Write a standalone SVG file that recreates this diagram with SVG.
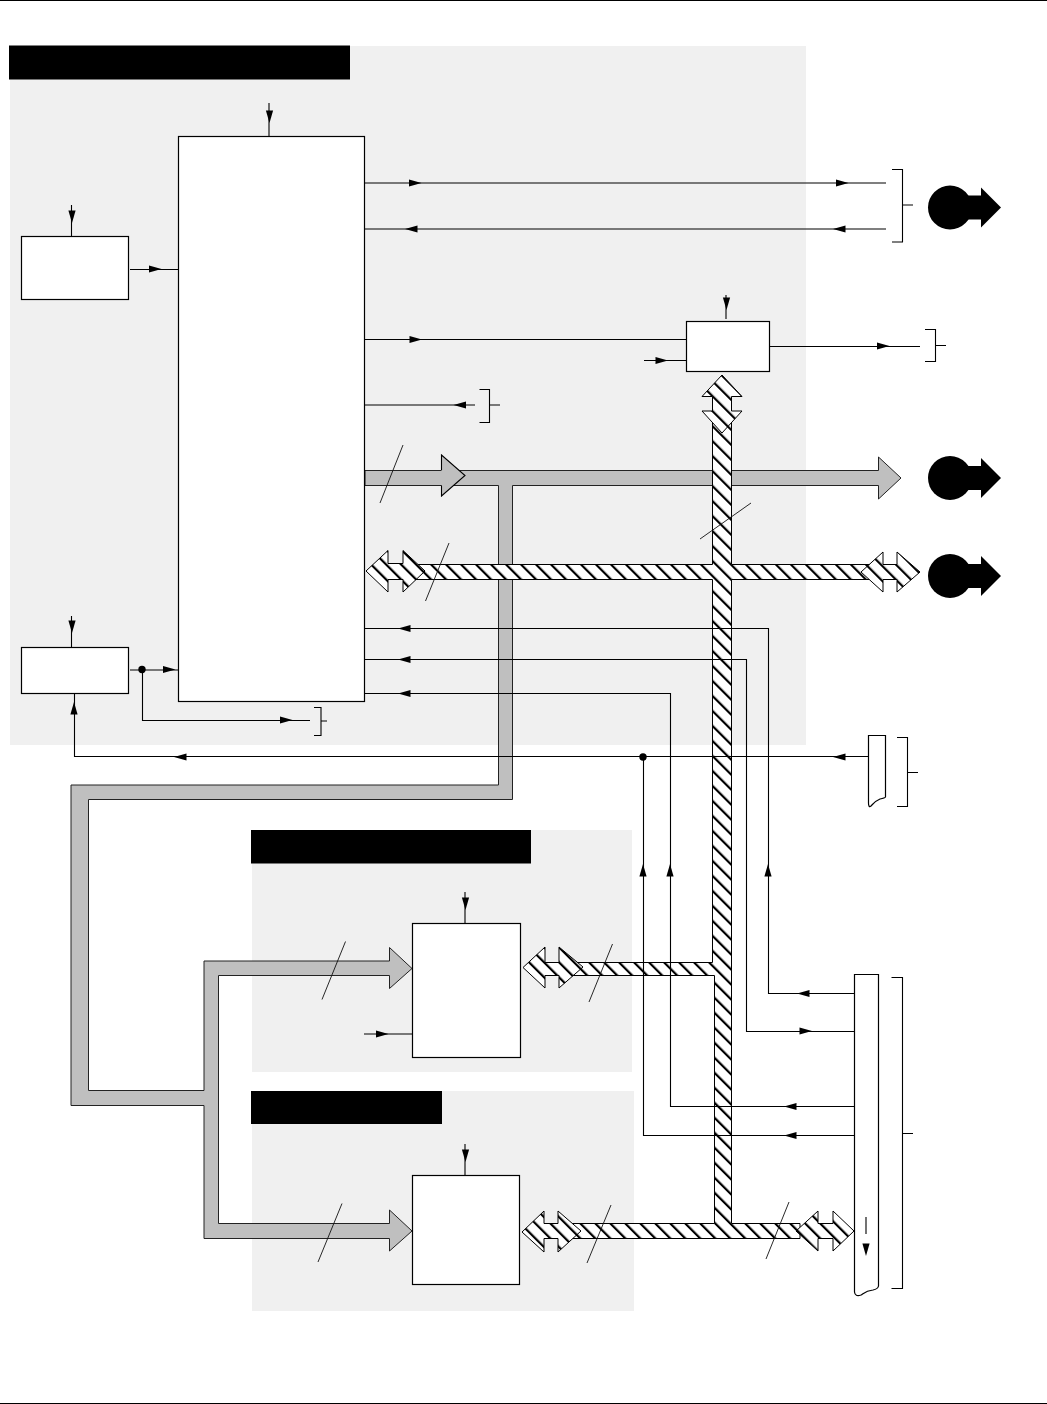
<svg xmlns="http://www.w3.org/2000/svg" width="1047" height="1404" viewBox="0 0 1047 1404">
<style>
.panel{fill:#f0f0f0}
.hdr{fill:#000}
.box{fill:#fff;stroke:#000;stroke-width:1.2}
.ln{fill:none;stroke:#000;stroke-width:1.1}
.thin{fill:none;stroke:#111;stroke-width:.9}
.gray{fill:#bfbfbf;stroke:#222;stroke-width:1}
.hatch{fill:url(#hatch);stroke:#000;stroke-width:1}
</style>
<defs>
<pattern id="hatch" patternUnits="userSpaceOnUse" width="10.6" height="10.6" patternTransform="rotate(-45 0 0)">
<rect width="10.6" height="10.6" fill="#fff"/>
<rect width="2.2" height="10.6" fill="#000"/>
</pattern>
<path id="ah" d="M0,0 L-12.5,-3.6 V3.6 Z" fill="#000"/>
<g id="offpage">
<circle cx="0" cy="0" r="22" fill="#000"/>
<path d="M15,-12 H31 V-20 L51,0 L31,20 V12 H15 Z" fill="#000"/>
</g>
</defs>
<rect width="1047" height="1404" fill="#fff"/>
<path class="ln" d="M0,0.5 H1047 M0,1403.5 H1047"/>

<g id="panel-top"><rect class="panel" x="10" y="46" width="796" height="699"/><rect class="hdr" x="9" y="45.500" width="341" height="34"/></g>
<g id="panel-mid"><rect class="panel" x="252" y="830" width="380" height="242"/><rect class="hdr" x="251" y="830" width="280" height="33.500"/></g>
<g id="panel-low"><rect class="panel" x="252" y="1091" width="382" height="220"/><rect class="hdr" x="251" y="1091" width="191" height="33"/></g>

<g id="connectors">
<!-- gray bus -->
<path class="gray" d="M365,470.5 H878.5 V457 L901,478 L878.5,499 V485.5 H512.5 V799.5 H88.5 V1090.5 H204 V961 H389.5 V947.5 L412,968.5 L389.5,988.5 V975.5 H218.5 V1223.5 H389.5 V1210 L412,1231 L389.5,1251 V1238.5 H204 V1105.5 H71 V785 H498.5 V485.5 H365 Z"/>
<path d="M441.5,470 V455 L465,475.5 L441.5,496 V485.5 Z" fill="#bfbfbf"/>
<path class="ln" d="M441.5,470 V455 L465,475.5 L441.5,496 V485.5"/>
<!-- hatched bus -->
<path class="hatch" d="M412,564.5 H712.5 V411 H731.5 V564.5 H870 V579.5 H731.5 V1223.5 H800 V1238.5 H560 V1223.5 H714.5 V975.5 H570 V962.5 H712.5 V579.5 H412 Z"/>
<path class="hatch" d="M722,375 L742,396.5 H731.5 V411 H742 L722,433 L702,411 H712.5 V396.5 H702 Z"/>
<path class="hatch" d="M366,571 L388,550.5 V563.5 H403 V550.5 L425,571 L403,592 V579.5 H388 V592 Z"/>
<path class="hatch" d="M861,572 L883,552 V564.5 H897 V552 L920,572 L897,592 V579.5 H883 V592 Z"/>
<path class="hatch" d="M523,967.5 L545,947 V962.5 H559 V947 L583,967 L559,988 V975.5 H545 V988 Z"/>
<path class="hatch" d="M522,1232 L544,1211 V1223.5 H558 V1211 L581,1231 L558,1252 V1238.5 H544 V1252 Z"/>
<path class="hatch" d="M796,1231 L818,1211 V1223.5 H833 V1211 L854,1231 L833,1251 V1238.5 H818 V1251 Z"/>
<!-- bus slashes -->
<path class="thin" d="M403,445 L380,503 M449,543 L425.5,601 M751,503 L700,539 M345.5,941.5 L322,999.5 M612.5,944 L589,1002 M342,1203.5 L318,1262 M611,1205 L587,1263 M789,1202 L766,1259"/>
<!-- signal lines -->
<path class="ln" d="M269,103 V136 M71.5,205 V236 M130,269.5 H178 M71.5,616 V647 M130,670 H178 M142.5,670 V720.5 H310 M74.5,693 V756.5 H868 M365,183 H886 M365,229 H886 M365,339.5 H686 M726,295 V319 M644,360.5 H686 M769,346.5 H920 M365,405 H475 M365,628.5 H768.5 V993.5 H855 M365,659.5 H746.5 V1031.5 H855 M365,693.5 H670.5 V1106.5 H855 M643.5,756.5 V1135.5 H855 M465,892 V923 M364,1034 H412 M465,1144 V1175 M866,1217 V1234"/>
<!-- arrowheads -->
<use href="#ah" transform="translate(269.5 123) rotate(90)"/>
<use href="#ah" transform="translate(72 223) rotate(90)"/>
<use href="#ah" transform="translate(161.5 269)"/>
<use href="#ah" transform="translate(72 633) rotate(90)"/>
<use href="#ah" transform="translate(175.5 669.5)"/>
<use href="#ah" transform="translate(292.5 720)"/>
<use href="#ah" transform="translate(74 702) rotate(-90)"/>
<use href="#ah" transform="translate(174 757) rotate(180)"/>
<use href="#ah" transform="translate(833 757) rotate(180)"/>
<use href="#ah" transform="translate(421.5 183)"/>
<use href="#ah" transform="translate(848.5 183)"/>
<use href="#ah" transform="translate(405 229) rotate(180)"/>
<use href="#ah" transform="translate(833 229) rotate(180)"/>
<use href="#ah" transform="translate(422 339.5)"/>
<use href="#ah" transform="translate(726.5 310) rotate(90)"/>
<use href="#ah" transform="translate(668 360.5)"/>
<use href="#ah" transform="translate(889.5 346)"/>
<use href="#ah" transform="translate(453.5 405) rotate(180)"/>
<use href="#ah" transform="translate(398 628.5) rotate(180)"/>
<use href="#ah" transform="translate(398 659.5) rotate(180)"/>
<use href="#ah" transform="translate(398 693.5) rotate(180)"/>
<use href="#ah" transform="translate(643 864) rotate(-90)"/>
<use href="#ah" transform="translate(670 864) rotate(-90)"/>
<use href="#ah" transform="translate(768 864) rotate(-90)"/>
<use href="#ah" transform="translate(797 993.5) rotate(180)"/>
<use href="#ah" transform="translate(812 1031)"/>
<use href="#ah" transform="translate(784 1106.5) rotate(180)"/>
<use href="#ah" transform="translate(784 1135.5) rotate(180)"/>
<use href="#ah" transform="translate(388.5 1034)"/>
<use href="#ah" transform="translate(465.5 910) rotate(90)"/>
<use href="#ah" transform="translate(465.5 1162) rotate(90)"/>
<use href="#ah" transform="translate(866 1256) rotate(90)"/>
<!-- junction dots -->
<circle cx="142" cy="669.5" r="3.7" fill="#000"/>
<circle cx="643" cy="757" r="3.7" fill="#000"/>
<!-- brackets -->
<path class="ln" d="M892,169.5 H902.5 V242 H892 M902.5,205 H913"/>
<path class="ln" d="M925,329.5 H935.5 V361.5 H925 M935.5,345.5 H946"/>
<path class="ln" d="M479.5,389.5 H489.5 V422.5 H479.5 M489.5,405 H500"/>
<path class="ln" d="M314,707.5 H321 V735.5 H314 M321,721 H327"/>
<path class="ln" d="M897,737.5 H907.5 V806.5 H897 M907.5,772.5 H918"/>
<path class="ln" d="M891.5,977.5 H902.5 V1288.5 H891.5 M902.5,1133.5 H913"/>
</g>

<g id="cpu"><rect class="box" x="178.5" y="136.5" width="186" height="565"/></g>
<g id="box-clock"><rect class="box" x="21.5" y="236.5" width="107" height="63"/></g>
<g id="box-reset"><rect class="box" x="21.5" y="647.5" width="107" height="46"/></g>
<g id="box-latch"><rect class="box" x="686.5" y="321.5" width="83" height="50"/></g>
<g id="box-mid"><rect class="box" x="412.5" y="923.5" width="108" height="134"/></g>
<g id="box-low"><rect class="box" x="412.5" y="1175.5" width="107" height="109"/></g>
<g id="strip-small"><path class="box" d="M868.5,735.5 H885.5 V797 Q885,798 880,799 C875,801 873,804 871,806 Q868.5,808 868.5,803 Z"/></g>
<g id="strip-long"><path class="box" style="fill:none" d="M854.5,974.5 H878.5 V1286 Q878,1289 873,1290 C866,1290.5 864,1293 861,1295 Q855,1297 854.5,1292 Z"/></g>
<g id="offpage-1"><use href="#offpage" x="950" y="207.5"/></g>
<g id="offpage-2"><use href="#offpage" x="950" y="478"/></g>
<g id="offpage-3"><use href="#offpage" x="950" y="576"/></g>
</svg>
